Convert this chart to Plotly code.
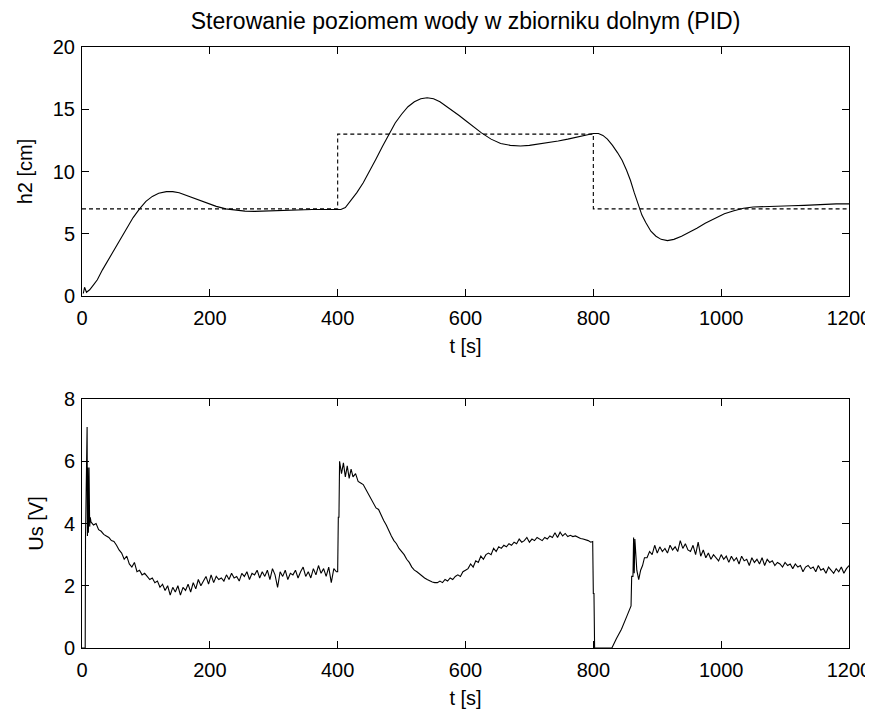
import plotly.graph_objects as go

TITLE = "Sterowanie poziomem wody w zbiorniku dolnym (PID)"

# ---- top plot: water level h2 [cm] ----
h2_t = [2, 4, 7, 12, 18, 24, 32, 40, 48, 56, 64, 72, 80, 90, 100, 110, 120, 132, 142, 152,
        165, 180, 195, 210, 225, 240, 255, 270, 285, 300, 330, 360, 390, 405, 412, 420, 430,
        440, 450, 460, 470, 480, 490, 500, 510, 520, 530, 540, 550, 560, 570, 580, 590, 600,
        612, 625, 640, 655, 670, 686, 700, 715, 730, 745, 760, 775, 790, 800, 808, 815, 822,
        830, 838, 845, 852, 858, 864, 870, 876, 882, 890, 898, 906, 916, 926, 938, 950, 962,
        975, 990, 1005, 1020, 1035, 1050, 1070, 1090, 1110, 1130, 1145, 1160, 1180, 1200]
h2_v = [0.2, 0.7, 0.3, 0.5, 0.9, 1.3, 2.1, 2.8, 3.5, 4.2, 4.9, 5.6, 6.3, 7.0, 7.6, 8.0, 8.25,
        8.38, 8.38, 8.3, 8.05, 7.75, 7.45, 7.2, 7.0, 6.88, 6.82, 6.8, 6.83, 6.88, 6.92, 6.95,
        6.95, 6.95, 7.1, 7.6, 8.3, 9.1, 10.0, 11.0, 12.0, 13.0, 13.9, 14.6, 15.2, 15.6, 15.85,
        15.92, 15.85, 15.6, 15.25, 14.85, 14.5, 14.1, 13.6, 13.1, 12.6, 12.25, 12.1, 12.05,
        12.1, 12.2, 12.3, 12.45, 12.6, 12.75, 12.95, 13.05, 13.05, 12.9, 12.6, 12.1, 11.5,
        10.9, 10.1, 9.3, 8.3, 7.3, 6.5, 5.9, 5.2, 4.8, 4.55, 4.45, 4.55, 4.8, 5.1, 5.45, 5.85,
        6.25, 6.6, 6.85, 7.05, 7.15, 7.2, 7.22, 7.25, 7.28, 7.32, 7.38, 7.4, 7.4]

sp_t = [0, 400, 400, 800, 800, 1200]
sp_v = [7, 7, 13, 13, 7, 7]

# ---- bottom plot: control voltage Us [V] ----
us_t = [0, 5, 5.5, 8, 8.5, 9, 10, 11, 12, 13,
        14, 18, 22, 26, 30, 34, 38, 42, 46, 50, 54, 58, 62, 66, 70, 74, 78, 82, 86, 90, 94, 98,
        102, 106, 110, 114, 118, 122, 126, 130, 134, 138, 142, 146, 150, 154, 158, 162, 166,
        170, 174, 178, 182, 186, 190, 194, 198, 202, 206, 210, 214, 218, 222, 226, 230, 234,
        238, 242, 246, 250, 254, 258, 262, 266, 270, 274, 278, 282, 286, 290, 294, 298, 302,
        306, 310, 314, 318, 322, 326, 330, 334, 338, 342, 346, 350, 354, 358, 362, 366, 370,
        374, 378, 382, 386, 390, 394, 398,
        400, 401, 402, 403, 406, 409, 412, 415, 418, 421, 424, 428, 432, 436, 440, 444, 448,
        452, 456, 460, 464, 468, 472, 476, 480, 484, 488, 492, 496, 500, 504, 508, 512, 516,
        520, 524, 528, 532, 536, 540, 544, 548, 552, 556, 560,
        564, 568, 572, 576, 580, 584, 588, 592, 596, 600, 604, 608, 612, 616, 620, 624, 628,
        632, 636, 640, 644, 648, 652, 656, 660, 664, 668, 672, 676, 680, 684, 688, 692, 696,
        700, 704, 708, 712, 716, 720, 724, 728, 732, 736, 740, 744, 748, 752, 756, 760, 764,
        768, 772, 776, 780, 784, 788, 792, 796, 799, 800, 801, 802, 829,
        836, 844, 852, 859, 860, 862, 863, 864, 865, 866, 868, 871, 874, 877, 880,
        884, 888, 892, 896, 900, 904, 908, 912, 916, 920, 924, 928, 932, 936, 940, 944, 948,
        952, 956, 960, 964, 968, 972, 976, 980, 984, 988, 992, 996, 1000, 1004, 1008, 1012,
        1016, 1020, 1024, 1028, 1032, 1036, 1040, 1044, 1048, 1052, 1056, 1060, 1064, 1068,
        1072, 1076, 1080, 1084, 1088, 1092, 1096, 1100, 1104, 1108, 1112, 1116, 1120, 1124,
        1128, 1132, 1136, 1140, 1144, 1148, 1152, 1156, 1160, 1164, 1168, 1172, 1176, 1180,
        1184, 1188, 1192, 1196, 1200]
us_v = [0, 0, 3.6, 7.1, 3.6, 5.8, 3.7, 5.8, 3.9, 4.2,
        4.05, 3.95, 4.0, 3.8, 3.75, 3.65, 3.6, 3.55, 3.45, 3.42, 3.3, 3.15, 3.05, 2.85, 2.95,
        2.7, 2.6, 2.75, 2.45, 2.5, 2.35, 2.4, 2.3, 2.2, 2.25, 2.1, 2.15, 1.95, 2.05, 1.85, 2.0,
        1.7, 1.95, 1.8, 2.0, 1.7, 1.95, 1.85, 2.05, 1.8, 2.1, 1.9, 2.2, 2.0, 2.15, 2.3, 2.05,
        2.35, 2.1, 2.3, 2.2, 2.25, 2.15, 2.35, 2.2, 2.4, 2.25, 2.3, 2.15, 2.4, 2.3, 2.45, 2.2,
        2.4, 2.35, 2.5, 2.25, 2.45, 2.3, 2.5, 2.2, 2.55, 2.35, 1.95, 2.45, 2.3, 2.5, 2.2, 2.4,
        2.35, 2.5, 2.25, 2.45, 2.6, 2.3, 2.45, 2.25, 2.55, 2.35, 2.65, 2.4, 2.55, 2.3, 2.6,
        2.1, 2.55, 2.45,
        2.45, 4.2, 4.2, 6.0, 5.6, 5.95, 5.5, 5.85, 5.45, 5.75, 5.5, 5.6, 5.35, 5.3, 5.25, 5.1,
        4.95, 4.8, 4.7, 4.5, 4.45, 4.25, 4.1, 3.95, 3.8, 3.6, 3.45, 3.35, 3.2, 3.1, 3.0, 2.85,
        2.75, 2.6, 2.5, 2.45, 2.38, 2.3, 2.25, 2.2, 2.15, 2.12, 2.1, 2.1, 2.15,
        2.1, 2.2, 2.15, 2.25, 2.2, 2.3, 2.35, 2.3, 2.45, 2.5, 2.55, 2.7, 2.6, 2.8, 2.75, 2.95,
        2.85, 3.0, 3.05, 3.0, 3.2, 3.1, 3.25, 3.2, 3.3, 3.25, 3.35, 3.3, 3.4, 3.35, 3.5, 3.4,
        3.45, 3.55, 3.4, 3.5, 3.45, 3.55, 3.5, 3.45, 3.55, 3.5, 3.6, 3.55, 3.7, 3.55, 3.72,
        3.6, 3.68, 3.58, 3.62, 3.58, 3.6, 3.55, 3.52, 3.5, 3.48, 3.45, 3.4, 3.42, 1.75, 1.75,
        0, 0,
        0.3, 0.6, 1.0, 1.35, 2.3, 2.3, 3.55, 2.4, 3.5, 3.1, 2.5, 2.2, 2.5, 2.65, 2.9,
        2.9, 3.1, 3.0, 3.3, 3.05, 3.25, 3.1, 3.2, 3.05, 3.3, 3.15, 3.25, 3.1, 3.45, 3.2, 3.35,
        3.15, 3.1, 3.3, 3.0, 3.4, 2.95, 3.15, 2.9, 3.05, 2.85, 3.0, 2.9, 2.8, 3.0, 2.85, 2.95,
        2.75, 2.95, 2.8, 2.9, 2.7, 2.95, 2.8, 2.85, 2.65, 2.9, 2.75, 2.85, 2.7, 2.9, 2.65,
        2.85, 2.75, 2.8, 2.65, 2.75, 2.7, 2.6, 2.75, 2.65, 2.7, 2.55, 2.7, 2.6, 2.65, 2.45,
        2.6, 2.65, 2.55, 2.6, 2.45, 2.65, 2.5, 2.55, 2.4, 2.6, 2.5, 2.4, 2.55, 2.45, 2.6,
        2.4, 2.55, 2.65]

x_ticks = [0, 200, 400, 600, 800, 1000, 1200]
h2_ticks = [0, 5, 10, 15, 20]
us_ticks = [0, 2, 4, 6, 8]

FONT = "Liberation Sans, Arial, sans-serif"
FS = 20

fig = go.Figure()
fig.add_trace(go.Scatter(x=h2_t, y=h2_v, mode="lines", line=dict(color="black", width=1.1),
                         xaxis="x", yaxis="y", showlegend=False))
fig.add_trace(go.Scatter(x=sp_t, y=sp_v, mode="lines",
                         line=dict(color="black", width=1.1, dash="4px,3px"),
                         xaxis="x", yaxis="y", showlegend=False))
fig.add_trace(go.Scatter(x=us_t, y=us_v, mode="lines", line=dict(color="black", width=1.1),
                         xaxis="x2", yaxis="y2", showlegend=False))

common = dict(showline=True, linecolor="black", linewidth=1, mirror="ticks", ticks="inside",
              ticklen=7, tickwidth=1, tickcolor="black", showgrid=False, zeroline=False,
              automargin=False,
              tickfont=dict(family=FONT, size=FS, color="black"))

# page body has an 8px offset, so the figure is 8px smaller and shifted
OFF = 8
W, H = 873 - OFF, 713 - OFF
ML, MR, MT, MB = 82 - OFF, 24, 47 - OFF, 65
ph = H - MT - MB
top_dom = [(648 - 296) / ph, 1.0]
bot_dom = [0.0, (648 - 399) / ph]

fig.update_layout(
    width=W, height=H,
    margin=dict(l=ML, r=MR, t=MT, b=MB, autoexpand=False),
    paper_bgcolor="white", plot_bgcolor="white",
    font=dict(family=FONT, size=FS, color="black"),
    title=dict(text=TITLE, x=0.5, xref="paper", xanchor="center",
               y=1 - (21 - OFF) / H, yref="container", yanchor="middle", automargin=False,
               font=dict(family=FONT, size=23, color="black")),
    xaxis=dict(domain=[0, 1], anchor="y", range=[0, 1200], tickvals=x_ticks, ticklabelstandoff=4,
               title=dict(text="t [s]", standoff=10, font=dict(family=FONT, size=FS)), **common),
    yaxis=dict(domain=top_dom, anchor="x", range=[0, 20], tickvals=h2_ticks, ticklabelstandoff=2,
               title=dict(text="h2 [cm]", standoff=14, font=dict(family=FONT, size=FS)), **common),
    xaxis2=dict(domain=[0, 1], anchor="y2", range=[0, 1200], tickvals=x_ticks, ticklabelstandoff=4,
                title=dict(text="t [s]", standoff=10, font=dict(family=FONT, size=FS)), **common),
    yaxis2=dict(domain=bot_dom, anchor="x2", range=[0, 8], tickvals=us_ticks, ticklabelstandoff=2,
                title=dict(text="Us [V]", standoff=14, font=dict(family=FONT, size=FS)), **common),
)

fig.write_html("out.html")
